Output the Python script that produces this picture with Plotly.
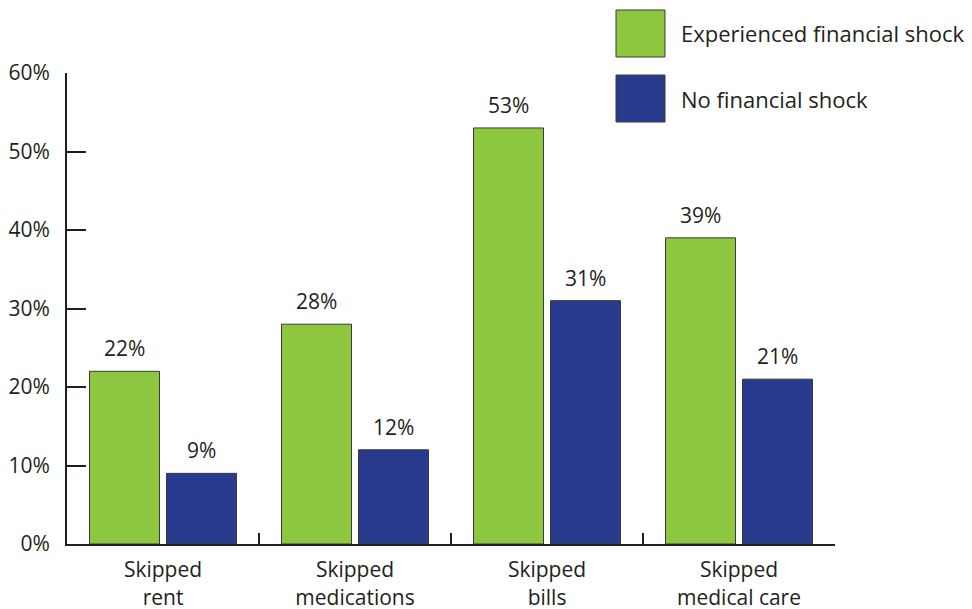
import plotly.graph_objects as go

categories = ["Skipped<br>rent", "Skipped<br>medications", "Skipped<br>bills", "Skipped<br>medical care"]
series_names = ["Experienced financial shock", "No financial shock"]
shock_values = [22, 28, 53, 39]
no_shock_values = [9, 12, 31, 21]
y_ticks = [0, 10, 20, 30, 40, 50, 60]

GREEN = "#8dc63f"
BLUE = "#283a8e"
INK = "#231f20"
FONT = "Open Sans"
BARGAP = 0.198
BARGROUPGAP = 0.091

W, H = 972, 609
L, R, T, B = 67, 137, 73, 65
plot_w = W - L - R
plot_h = H - T - B


def px_x(p):
    return (p - L) / plot_w


def px_y(p):
    return (H - B - p) / plot_h


fig = go.Figure()
for name, vals, color in [(series_names[0], shock_values, GREEN),
                          (series_names[1], no_shock_values, BLUE)]:
    fig.add_trace(go.Bar(
        x=categories, y=vals, name=name,
        marker=dict(color=color, line=dict(color="#3a3a3a", width=1)),
        showlegend=False,
    ))

# value labels above bars
slot = plot_w / len(categories) * (1 - BARGAP) / 2
for vals, shift in [(shock_values, -slot / 2), (no_shock_values, slot / 2)]:
    for c, v in zip(categories, vals):
        fig.add_annotation(x=c, y=v, text=f"{v}%", showarrow=False,
                           xshift=shift, yshift=7, yanchor="bottom",
                           font=dict(family=FONT, size=21, color=INK))

# legend swatches and labels
for (top, bottom), color, name in [((10, 57), GREEN, series_names[0]),
                                    ((75, 122), BLUE, series_names[1])]:
    fig.add_shape(type="rect", xref="paper", yref="paper",
                  x0=px_x(616), x1=px_x(665), y0=px_y(bottom), y1=px_y(top),
                  fillcolor=color, line=dict(color="#3a3a3a", width=1))
    fig.add_annotation(xref="paper", yref="paper", x=px_x(679),
                       y=px_y((top + bottom) / 2), text=name, showarrow=False,
                       xanchor="left", yanchor="middle",
                       font=dict(family=FONT, size=22, color=INK))

fig.update_layout(
    width=W, height=H,
    margin=dict(l=L, r=R, t=T, b=B, autoexpand=False),
    paper_bgcolor="white", plot_bgcolor="white",
    barmode="group", bargap=BARGAP, bargroupgap=BARGROUPGAP,
    font=dict(family=FONT, size=21, color=INK),
)
fig.update_xaxes(
    showline=True, linecolor=INK, linewidth=2,
    ticks="inside", ticklen=11, tickwidth=2, tickcolor=INK,
    tickson="boundaries", showgrid=False, automargin=False,
    ticklabelstandoff=6,
    tickfont=dict(family=FONT, size=21, color=INK),
)
fig.update_yaxes(
    range=[0, 60], tickvals=y_ticks, ticktext=[f"{t}%" for t in y_ticks],
    showline=True, linecolor=INK, linewidth=2,
    ticks="inside", ticklen=19, tickwidth=2, tickcolor=INK,
    showgrid=False, zeroline=False, ticklabelstandoff=11, automargin=False,
    tickfont=dict(family=FONT, size=21, color=INK),
)

fig.write_html("out.html")
